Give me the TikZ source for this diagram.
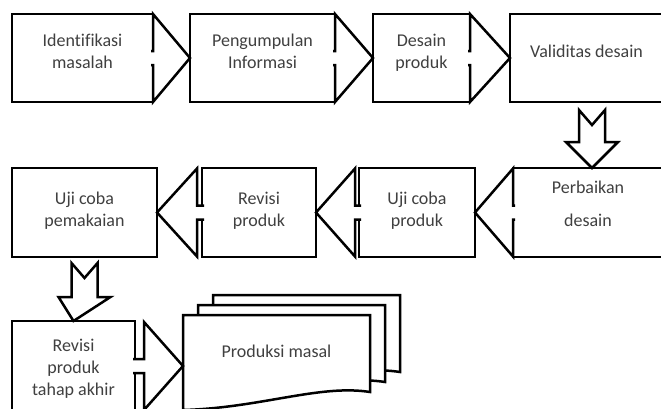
\documentclass[tikz,border=0pt]{standalone}
\usepackage{fontspec}
\setmainfont{Carlito}[Ligatures={TeX,NoCommon}]
\usetikzlibrary{calc}

\begin{document}
\begin{tikzpicture}[x=1pt, y=-1pt, line width=2.5pt,
			every node/.style = {shape=rectangle, draw, align=center, outer sep=0pt,
				fill=white, text=black!75, text depth=14pt, font=\fontsize{18}{22}\selectfont},
			harr/.style = {to path={let \p1=(\tikztostart), \p2=(\tikztotarget), \n1={sign(\x2-\x1)} in
				(\x1-\n1*2,\y1+7) -- (\x1+\n1*#1,\y1+7) -- (\x1+\n1*#1,\y1+44) -- (\x2,\y2)
				-- (\x1+\n1*#1,\y1-44) -- (\x1+\n1*#1,\y1-7) -- (\x1-\n1*2,\y1-7)}},
			varr/.style = {to path={let \p1=(\tikztostart), \p2=(\tikztotarget) in
				(\x1-13,\y1-#1) -- (\x1,\y1-#1-15) -- (\x1+13,\y1-#1) -- (\x1+13,\y1-40)
				-- (\x1+26,\y1-40) -- (\x2,\y2) -- (\x1-26,\y1-40) -- (\x1-13,\y1-40) -- cycle}}]
			\useasboundingbox (0,0) rectangle (661,408);
			\tikzset{row1/.style={minimum height=88pt}, row2/.style={minimum height=89pt, text depth=7pt}}
			\node[row1, minimum width=141pt] (ident) at (82.5,58) {Identifikasi\\masalah};
			\node[row1, minimum width=145pt] (info) at (262.5,58) {Pengumpulan\\Informasi};
			\node[row1, minimum width=97pt] (desain) at (421.5,58) {Desain\\produk};
			\node[row1, minimum width=153pt] (valid) at (586.5,58) {Validitas desain};
			\node[row2, minimum width=150pt, text depth=18pt] (perbaikan) at (588,212.5) {Perbaikan\\[11pt]desain};
			\node[row2, minimum width=116pt] (ujiproduk) at (417,212.5) {Uji coba\\produk};
			\node[row2, minimum width=114pt] (revisi) at (259,212.5) {Revisi\\produk};
			\node[row2, minimum width=145pt] (ujipakai) at (84.5,212.5) {Uji coba\\pemakaian};
			\node[minimum width=123pt, minimum height=98pt, text depth=5pt] (akhir) at (73.5,370) {Revisi\\produk\\tahap akhir};
			\foreach \s in {30,15,0}
				\draw[fill=white, shift={(\s,-\s*2/3)}] (183,315) -- (370,315) -- (370,392)
					.. controls (320,384) and (260,408) .. (183,410) -- cycle;
			\node[draw=none, fill=none, minimum width=187pt, minimum height=76pt] (masal) at (276.5,358) {Produksi masal};
			\draw[fill=white] (ident.east) to[harr=0] (info.west);
			\draw[fill=white] (info.east) to[harr=0] (desain.west);
			\draw[fill=white] (desain.east) to[harr=0] (valid.west);
			\draw[fill=white] ([xshift=5.5pt]valid.south) to[varr=8] ([xshift=4pt]perbaikan.north);
			\draw[fill=white] (perbaikan.west) to[harr=0] (ujiproduk.east);
			\draw[fill=white] (ujiproduk.west) to[harr=4] (revisi.east);
			\draw[fill=white] (revisi.west) to[harr=5] (ujipakai.east);
			\draw[fill=white] (ujipakai.south) to[varr=6] (akhir.north);
			\draw[fill=white] ([yshift=4pt]akhir.east) to[harr=9] ([yshift=4pt]akhir.east -| masal.west);
\end{tikzpicture}
\end{document}
